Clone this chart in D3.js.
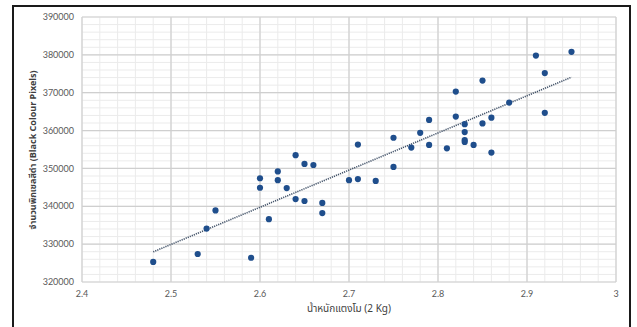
<!DOCTYPE html>
<html>
<head>
<meta charset="utf-8">
<script src="https://cdn.jsdelivr.net/npm/d3@7"></script>
<style>
  body { margin: 0; background: #fff; }
  svg { display: block; }
</style>
</head>
<body>
<div id="chart"></div>
<script>
// weight of watermelon (kg) and black pixel count
const weights = [2.48, 2.53, 2.54, 2.55, 2.59, 2.60, 2.60, 2.61, 2.62, 2.62,
                 2.63, 2.64, 2.64, 2.65, 2.65, 2.66, 2.67, 2.67, 2.70, 2.71,
                 2.71, 2.73, 2.75, 2.75, 2.77, 2.78, 2.79, 2.79, 2.81, 2.82,
                 2.82, 2.83, 2.83, 2.83, 2.83, 2.84, 2.85, 2.85, 2.86, 2.86,
                 2.88, 2.91, 2.92, 2.92, 2.95];
const pixels = [325300, 327400, 334100, 338900, 326400, 347400, 344900, 336600, 349200, 346900,
                344800, 353500, 341900, 351200, 341400, 350900, 340900, 338200, 346900, 347200,
                356300, 346700, 358100, 350400, 355500, 359400, 362800, 356200, 355300, 370300,
                363700, 361700, 359600, 357500, 357000, 356200, 373200, 361900, 363400, 354200,
                367400, 379800, 375200, 364700, 380800];
const xTicks = [2.4, 2.5, 2.6, 2.7, 2.8, 2.9, 3];
const yTicks = [320000, 330000, 340000, 350000, 360000, 370000, 380000, 390000];

const W = 637, H = 327;
const margin = {left: 82, right: 21, top: 17, bottom: 45};

const svg = d3.select("#chart").append("svg")
    .attr("width", W).attr("height", H);

// frame
svg.append("path")
    .attr("d", `M13,${H} L13,6 L630,6 L630,${H}`)
    .attr("fill", "none").attr("stroke", "#1a1a1a").attr("stroke-width", 2);

const x = d3.scaleLinear().domain([2.4, 3]).range([margin.left, W - margin.right]);
const y = d3.scaleLinear().domain([320000, 390000]).range([H - margin.bottom, margin.top]);

const grid = svg.append("g");
// minor grid
grid.selectAll(".mx").data(d3.range(2.4, 3.0001, 0.02)).join("line")
    .attr("x1", d => x(d)).attr("x2", d => x(d))
    .attr("y1", y(320000)).attr("y2", y(390000))
    .attr("stroke", "#ebebeb").attr("stroke-width", 1);
grid.selectAll(".my").data(d3.range(320000, 390001, 2000)).join("line")
    .attr("x1", x(2.4)).attr("x2", x(3))
    .attr("y1", d => y(d)).attr("y2", d => y(d))
    .attr("stroke", "#ebebeb").attr("stroke-width", 1);
// major grid
grid.selectAll(".gx").data(xTicks).join("line")
    .attr("x1", d => x(d)).attr("x2", d => x(d))
    .attr("y1", y(320000)).attr("y2", y(390000))
    .attr("stroke", "#cfcfcf").attr("stroke-width", 1.2);
grid.selectAll(".gy").data(yTicks).join("line")
    .attr("x1", x(2.4)).attr("x2", x(3))
    .attr("y1", d => y(d)).attr("y2", d => y(d))
    .attr("stroke", "#cfcfcf").attr("stroke-width", 1.2);

// tick labels
svg.append("g").selectAll("text").data(yTicks).join("text")
    .attr("x", margin.left - 8).attr("y", d => y(d)).attr("dy", "0.35em")
    .attr("text-anchor", "end")
    .style("font", "9px Lato, sans-serif").attr("fill", "#595959")
    .text(d => d);
svg.append("g").selectAll("text").data(xTicks).join("text")
    .attr("x", d => x(d)).attr("y", y(320000) + 15)
    .attr("text-anchor", "middle")
    .style("font", "9px Lato, sans-serif").attr("fill", "#595959")
    .text(d => d);

// trendline (least squares)
const n = weights.length;
const mx = d3.mean(weights), my = d3.mean(pixels);
let sxy = 0, sxx = 0;
for (let i = 0; i < n; i++) {
  sxy += (weights[i] - mx) * (pixels[i] - my);
  sxx += (weights[i] - mx) ** 2;
}
const slope = sxy / sxx, icpt = my - slope * mx;
const ext = d3.extent(weights);
svg.append("line")
    .attr("x1", x(ext[0])).attr("y1", y(icpt + slope * ext[0]))
    .attr("x2", x(ext[1])).attr("y2", y(icpt + slope * ext[1]))
    .attr("stroke", "#44546a").attr("stroke-width", 1.6)
    .attr("stroke-dasharray", "1.2,1");

// points
svg.append("g").selectAll("circle").data(weights).join("circle")
    .attr("cx", d => x(d)).attr("cy", (d, i) => y(pixels[i]))
    .attr("r", 3.1).attr("fill", "#1f4e8c");

// axis titles
svg.append("text")
    .attr("x", 349).attr("y", 312).attr("text-anchor", "middle")
    .style("font", "10px 'Noto Sans Thai', Tahoma, Lato, sans-serif").attr("fill", "#404040")
    .text("น้ำหนักแตงโม (2 Kg)");
svg.append("text")
    .attr("transform", "translate(36,150) rotate(-90)").attr("text-anchor", "middle")
    .style("font", "bold 9px 'Noto Sans Thai', Tahoma, Lato, sans-serif").attr("fill", "#404040")
    .text("จำนวนพิกเซลสีดำ (Black Colour Pixels)");
</script>
</body>
</html>
